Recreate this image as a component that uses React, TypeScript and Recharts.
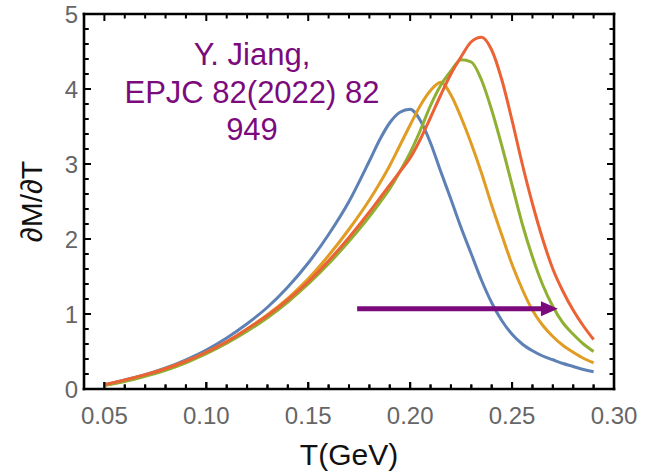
import React from 'react';
import { ComposedChart, Line, XAxis, YAxis, ReferenceLine, Customized } from 'recharts';

// temperature grid (GeV)
const T = [
  0.05, 0.06, 0.07, 0.08, 0.09, 0.1, 0.11, 0.12, 0.13, 0.14, 0.15, 0.16, 0.17, 0.18,
  0.185, 0.19, 0.195, 0.2, 0.205, 0.21, 0.215, 0.22, 0.225, 0.23, 0.235, 0.24, 0.245,
  0.25, 0.255, 0.26, 0.265, 0.27, 0.275, 0.28, 0.285, 0.29,
];

// dM/dT curves
const blue = [
  0.05, 0.12, 0.19, 0.28, 0.39, 0.52, 0.68, 0.87, 1.09, 1.36, 1.68, 2.06, 2.5, 3.04,
  3.32, 3.55, 3.69, 3.73, 3.58, 3.28, 2.9, 2.53, 2.15, 1.8, 1.45, 1.15, 0.91,
  0.73, 0.6, 0.51, 0.44, 0.39, 0.34, 0.3, 0.26, 0.23,
];
const yellow = [
  0.05, 0.11, 0.18, 0.27, 0.37, 0.49, 0.63, 0.8, 0.99, 1.21, 1.47, 1.78, 2.13, 2.52,
  2.74, 2.98, 3.25, 3.52, 3.78, 3.98, 4.09, 3.92, 3.62, 3.27, 2.88, 2.45, 2.05,
  1.66, 1.33, 1.05, 0.85, 0.7, 0.58, 0.49, 0.41, 0.35,
];
const green = [
  0.05, 0.1, 0.17, 0.25, 0.35, 0.47, 0.61, 0.77, 0.95, 1.16, 1.4, 1.67, 1.97, 2.3,
  2.48, 2.67, 2.9, 3.15, 3.45, 3.78, 4.05, 4.24, 4.39, 4.36, 4.12, 3.72, 3.24,
  2.72, 2.2, 1.76, 1.39, 1.1, 0.88, 0.73, 0.6, 0.5,
];
const red = [
  0.06, 0.12, 0.19, 0.27, 0.37, 0.49, 0.63, 0.8, 0.98, 1.19, 1.43, 1.71, 2.02, 2.36,
  2.54, 2.72, 2.9, 3.08, 3.33, 3.62, 3.92, 4.2, 4.43, 4.63, 4.69, 4.52, 4.12,
  3.58, 3.0, 2.47, 2.0, 1.6, 1.3, 1.05, 0.84, 0.66,
];

const X_DOMAIN = [0.04, 0.3];
const Y_DOMAIN = [0, 5];
const X_TICKS = [
  0.05, 0.06, 0.07, 0.08, 0.09, 0.1, 0.11, 0.12, 0.13, 0.14, 0.15, 0.16, 0.17, 0.18, 0.19,
  0.2, 0.21, 0.22, 0.23, 0.24, 0.25, 0.26, 0.27, 0.28, 0.29, 0.3,
];
const Y_TICKS = [
  0, 0.2, 0.4, 0.6, 0.8, 1, 1.2, 1.4, 1.6, 1.8, 2, 2.2, 2.4, 2.6, 2.8, 3, 3.2, 3.4, 3.6,
  3.8, 4, 4.2, 4.4, 4.6, 4.8, 5,
];

// arrow showing the shift of the peak
const ARROW_T = [0.174, 0.2725];
const ARROW_V = 1.07;

const NOTE = ['Y. Jiang,', 'EPJC 82(2022) 82', '949'];

const data = T.map((t, i) => ({ t, blue: blue[i], yellow: yellow[i], green: green[i], red: red[i] }));

const PURPLE = '#7B0B7D';
const FONT = '"Liberation Sans", Arial, sans-serif';

const isMajorX = (v: number) => Math.abs(v * 20 - Math.round(v * 20)) < 1e-6;
const isMajorY = (v: number) => Math.abs(v - Math.round(v)) < 1e-6;

const BottomTick = (props: any) => {
  const x = Number(props.x);
  const y = Number(props.y);
  const v = props.payload.value;
  const major = isMajorX(v);
  return (
    <g>
      <line x1={x} x2={x} y1={y} y2={y - (major ? 7 : 4.5)} stroke="#000" strokeWidth={2} />
      {major && (
        <text x={x} y={y + 35} textAnchor="middle" fontSize={24} fill="#666" fontFamily={FONT}>
          {v.toFixed(2)}
        </text>
      )}
    </g>
  );
};

const LeftTick = (props: any) => {
  const x = Number(props.x);
  const y = Number(props.y);
  const v = props.payload.value;
  const major = isMajorY(v);
  return (
    <g>
      <line x1={x} x2={x + (major ? 7 : 4.5)} y1={y} y2={y} stroke="#000" strokeWidth={2} />
      {major && (
        <text x={x - 6} y={y + 9} textAnchor="end" fontSize={24} fill="#666" fontFamily={FONT}>
          {v}
        </text>
      )}
    </g>
  );
};

// inward tick marks at both ends of a segment spanning the plot
const TickMarks = (props: any) => {
  const x1 = Number(props.x1);
  const y1 = Number(props.y1);
  const x2 = Number(props.x2);
  const y2 = Number(props.y2);
  const len = Number(props.len);
  const dx = x2 - x1;
  const dy = y2 - y1;
  const d = Math.hypot(dx, dy) || 1;
  const ux = (dx / d) * len;
  const uy = (dy / d) * len;
  return (
    <path
      d={`M${x1},${y1}L${x1 + ux},${y1 + uy}M${x2},${y2}L${x2 - ux},${y2 - uy}`}
      stroke="#000"
      strokeWidth={2}
      fill="none"
    />
  );
};

const Arrow = (props: any) => {
  const x1 = Number(props.x1);
  const y1 = Number(props.y1);
  const x2 = Number(props.x2);
  const y2 = Number(props.y2);
  return (
    <g>
      <line x1={x1} y1={y1} x2={x2 - 14} y2={y2} stroke={PURPLE} strokeWidth={5} />
      <polygon points={`${x2},${y2} ${x2 - 17},${y2 - 7.5} ${x2 - 17},${y2 + 7.5}`} fill={PURPLE} />
    </g>
  );
};

const Note = () => (
  <g>
    {NOTE.map((s, i) => (
      <text key={i} x={252} y={65 + i * 37.5} textAnchor="middle" fontSize={31} fill={PURPLE} fontFamily={FONT}>
        {s}
      </text>
    ))}
  </g>
);

const axisLine = { stroke: '#000', strokeWidth: 2.6, strokeLinecap: 'square' as const };

export default function App() {
  return (
    <div style={{ position: 'absolute', left: 0, top: 0, background: '#fff' }}>
      <ComposedChart width={652} height={475} data={data} margin={{ top: 0, right: 0, bottom: 0, left: 0 }}>
        <XAxis
          dataKey="t"
          type="number"
          domain={X_DOMAIN}
          ticks={X_TICKS}
          interval={0}
          height={86}
          tickSize={0}
          tickMargin={0}
          tick={<BottomTick />}
          axisLine={axisLine}
          label={{
            content: ({ viewBox }: any) => (
              <text
                x={viewBox.x + viewBox.width / 2}
                y={viewBox.y + 76}
                textAnchor="middle"
                fontSize={30}
                fill="#111"
                fontFamily={FONT}
              >
                T(GeV)
              </text>
            ),
          }}
        />
        <XAxis
          xAxisId="top"
          orientation="top"
          type="number"
          domain={X_DOMAIN}
          height={14}
          tick={false}
          tickLine={false}
          axisLine={axisLine}
        />
        <YAxis
          type="number"
          domain={Y_DOMAIN}
          ticks={Y_TICKS}
          interval={0}
          width={84}
          tickSize={0}
          tickMargin={0}
          tick={<LeftTick />}
          axisLine={axisLine}
          label={{
            content: ({ viewBox }: any) => {
              const cx = 31;
              const cy = viewBox.y + viewBox.height / 2;
              return (
                <text
                  x={cx}
                  y={cy}
                  transform={`rotate(-90 ${cx} ${cy})`}
                  textAnchor="middle"
                  dominantBaseline="central"
                  fontSize={30}
                  fill="#111"
                  fontFamily={FONT}
                >
                  ∂M/∂T
                </text>
              );
            },
          }}
        />
        <YAxis
          yAxisId="right"
          orientation="right"
          type="number"
          domain={Y_DOMAIN}
          width={38}
          tick={false}
          tickLine={false}
          axisLine={axisLine}
        />
        {X_TICKS.map((v) => (
          <ReferenceLine
            key={`x${v}`}
            segment={[
              { x: v, y: Y_DOMAIN[0] },
              { x: v, y: Y_DOMAIN[1] },
            ]}
            ifOverflow="visible"
            shape={<TickMarks len={isMajorX(v) ? 7 : 4.5} />}
          />
        ))}
        {Y_TICKS.map((v) => (
          <ReferenceLine
            key={`y${v}`}
            segment={[
              { x: X_DOMAIN[0], y: v },
              { x: X_DOMAIN[1], y: v },
            ]}
            ifOverflow="visible"
            shape={<TickMarks len={isMajorY(v) ? 7 : 4.5} />}
          />
        ))}
        <Line dataKey="blue" type="monotone" stroke="#5E81B5" strokeWidth={3} dot={false} isAnimationActive={false} />
        <Line dataKey="yellow" type="monotone" stroke="#E19C24" strokeWidth={3} dot={false} isAnimationActive={false} />
        <Line dataKey="green" type="monotone" stroke="#8FB032" strokeWidth={3} dot={false} isAnimationActive={false} />
        <Line dataKey="red" type="monotone" stroke="#EB6235" strokeWidth={3} dot={false} isAnimationActive={false} />
        <ReferenceLine
          segment={[
            { x: ARROW_T[0], y: ARROW_V },
            { x: ARROW_T[1], y: ARROW_V },
          ]}
          shape={<Arrow />}
        />
        <Customized component={Note} />
      </ComposedChart>
    </div>
  );
}
